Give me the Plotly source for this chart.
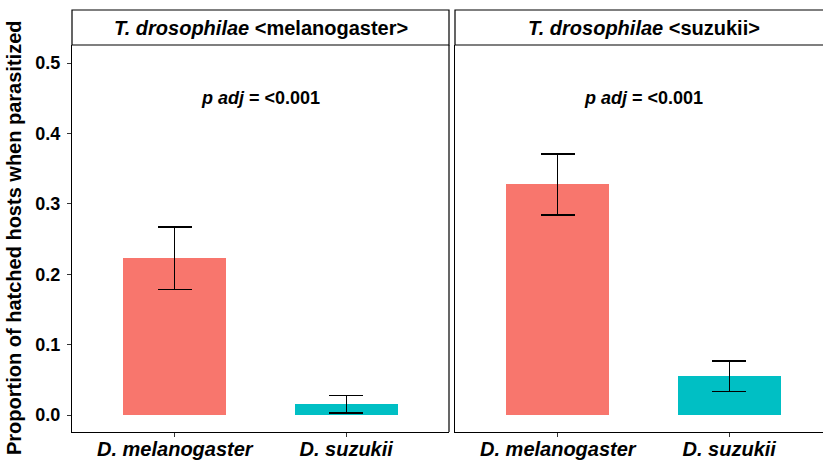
import plotly.graph_objects as go

# Host species on the x axis, one panel per parasitoid line
hosts = ["D. melanogaster", "D. suzukii"]
host_colors = ["#F8766D", "#00BFC4"]
panels = ["melanogaster", "suzukii"]

# Mean proportion hatched and error-bar limits, per panel
mean_mel_line = [0.223, 0.0156]
upper_mel_line = [0.267, 0.028]
lower_mel_line = [0.178, 0.003]

mean_suz_line = [0.328, 0.0554]
upper_suz_line = [0.371, 0.0767]
lower_suz_line = [0.284, 0.034]

p_labels = ["<0.001", "<0.001"]
p_label_y = 0.45

y_ticks = [0.0, 0.1, 0.2, 0.3, 0.4, 0.5]
y_range = [-0.024, 0.5256]

FONT = "Liberation Sans, Arial, sans-serif"
W, H = 823, 460
ML, MR, MT, MB = 72, 0, 45, 28
plot_w = W - ML - MR
plot_h = H - MT - MB


def px_x(p):
    return (p - ML) / plot_w


def px_y(p):
    return (H - MB - p) / plot_h


left_dom = [0.0, px_x(449)]
right_dom = [px_x(455), 1.0]
unit_px = 171.4  # pixels per category step
right_hi = 0.4 + (W - 455) / unit_px

fig = go.Figure()

series = [
    (mean_mel_line, upper_mel_line, lower_mel_line, "x", "y"),
    (mean_suz_line, upper_suz_line, lower_suz_line, "x2", "y2"),
]
xpos = [1, 2]
for means, up, lo, xa, ya in series:
    fig.add_trace(go.Bar(
        x=xpos, y=means, width=0.6,
        marker=dict(color=host_colors, line=dict(width=0)),
        error_y=dict(
            type="data", symmetric=False,
            array=[u - m for u, m in zip(up, means)],
            arrayminus=[m - l for m, l in zip(means, lo)],
            color="black", thickness=1.3, width=17,
        ),
        xaxis=xa, yaxis=ya, showlegend=False, hoverinfo="skip",
    ))

axis_font = dict(family=FONT, size=18, color="black")
xtick_font = dict(family=FONT, size=20, color="black")
xtext = [f"<b><i>{h}</i></b>" for h in hosts]

common_x = dict(
    tickvals=xpos, ticktext=xtext, tickfont=xtick_font, automargin=False,
    ticklabelstandoff=-5,
    showgrid=False, zeroline=False, showline=True, linecolor="black", linewidth=1.2,
    ticks="outside", ticklen=4, tickcolor="#333333", tickwidth=1,
)
fig.update_layout(
    xaxis=dict(domain=left_dom, range=[0.4, 2.6], anchor="y", **common_x),
    xaxis2=dict(domain=right_dom, range=[0.4, right_hi], anchor="y2", **common_x),
    yaxis=dict(
        domain=[0, 1], range=y_range, tickvals=y_ticks, automargin=False,
        ticktext=[f"<b>{v:.1f}</b>" for v in y_ticks], tickfont=axis_font,
        ticklabelstandoff=3,
        showgrid=False, zeroline=False, showline=True, linecolor="black", linewidth=1.2,
        ticks="outside", ticklen=4, tickcolor="#333333", tickwidth=1, anchor="x",
    ),
    yaxis2=dict(
        domain=[0, 1], range=y_range, showticklabels=False, ticks="", automargin=False,
        showgrid=False, zeroline=False, showline=True, linecolor="black", linewidth=1.2,
        anchor="x2",
    ),
    width=W, height=H,
    margin=dict(l=ML, r=MR, t=MT, b=MB, pad=0, autoexpand=False),
    paper_bgcolor="white", plot_bgcolor="white",
    bargap=0,
)

# Y-axis title, rotated along the left edge
fig.add_annotation(xref="paper", yref="paper", x=px_x(14), y=px_y(238),
                   text="<b>Proportion of hatched hosts when parasitized</b>",
                   textangle=-90, showarrow=False, xanchor="center", yanchor="middle",
                   font=dict(family=FONT, size=20, color="black"))

# Right-hand border of the left panel
fig.add_shape(type="line", xref="paper", yref="paper",
              x0=left_dom[1], x1=left_dom[1], y0=0, y1=1,
              line=dict(color="black", width=1.2))

# Facet strips
strip_bottom, strip_top = 1.0, px_y(10)
strips = [
    (px_x(72), px_x(449), "<b><i>T. drosophilae</i> &lt;melanogaster&gt;</b>"),
    (px_x(455), px_x(833), "<b><i>T. drosophilae</i> &lt;suzukii&gt;</b>"),
]
for x0, x1, label in strips:
    fig.add_shape(type="rect", xref="paper", yref="paper",
                  x0=x0, x1=x1, y0=strip_bottom, y1=strip_top,
                  line=dict(color="black", width=1.2), fillcolor="white", layer="above")
    fig.add_annotation(xref="paper", yref="paper", x=(x0 + x1) / 2,
                       y=(strip_bottom + strip_top) / 2, text=label, showarrow=False,
                       font=dict(family=FONT, size=20, color="black"),
                       xanchor="center", yanchor="middle")

# Adjusted p-value labels
for (xa, ya), p in zip([("x", "y"), ("x2", "y2")], p_labels):
    fig.add_annotation(xref=xa, yref=ya, x=1.5, y=p_label_y,
                       text=f"<b><i>p adj</i> = {p.replace('<', '&lt;')}</b>",
                       showarrow=False,
                       font=dict(family=FONT, size=18, color="black"))

fig.write_html("out.html")
